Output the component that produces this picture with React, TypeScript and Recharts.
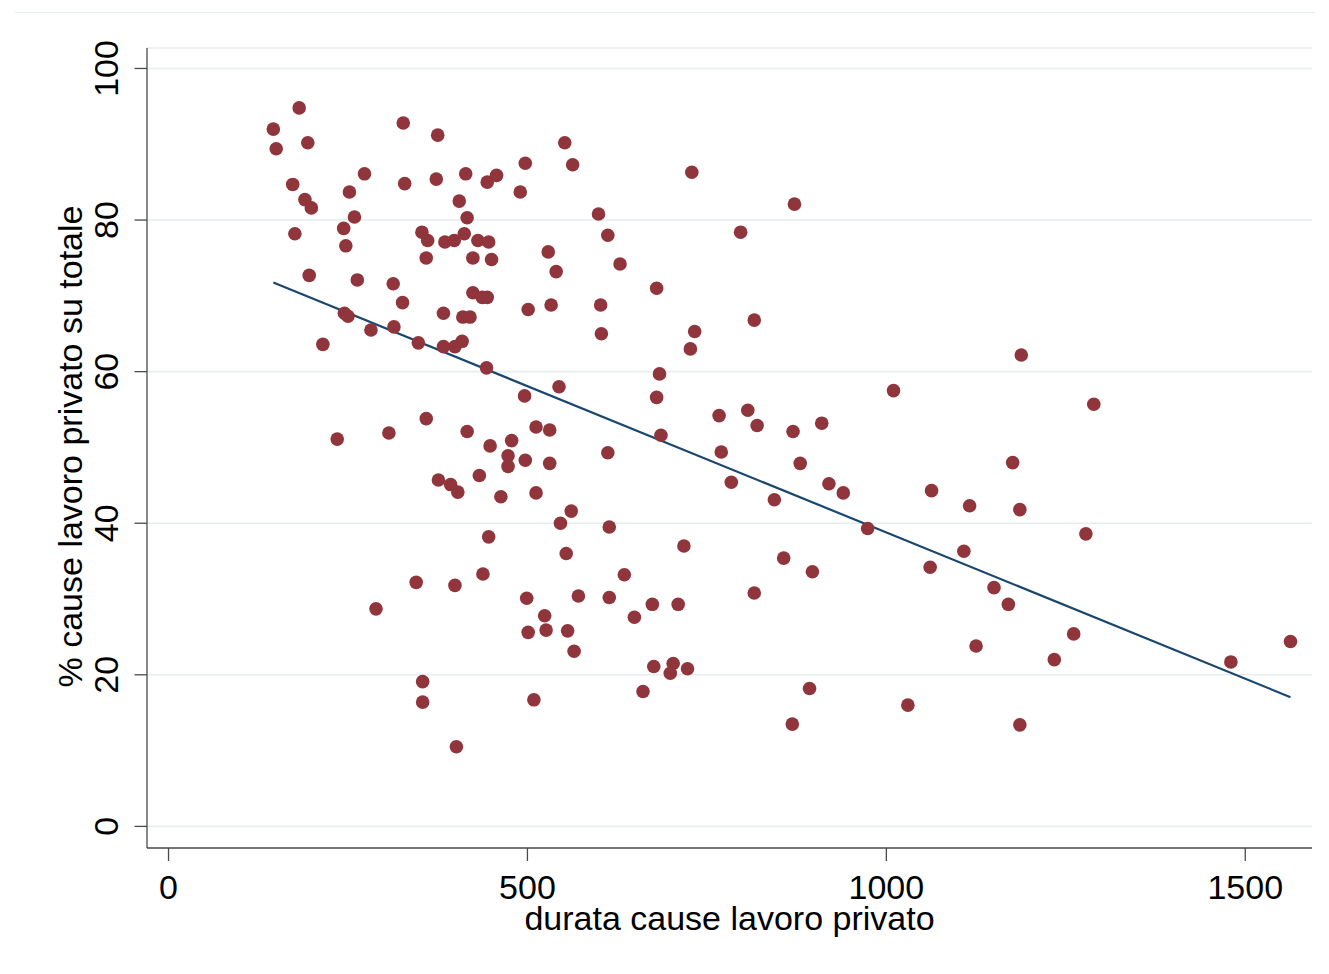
import React from 'react';
import { ScatterChart, Scatter, XAxis, YAxis, CartesianGrid, Label } from 'recharts';

// durata cause lavoro privato (x)
const durata: number[] = [
  146, 150, 182, 194, 173, 190, 199, 176, 196, 215, 235, 252, 244, 247, 259, 263, 245, 250, 273, 282,
  289, 307, 313, 314, 326, 329, 327, 345, 348, 353, 354, 354, 359, 361, 359, 375, 373, 376, 383, 385,
  383, 393, 399, 401, 398, 399, 403, 409, 410, 412, 414, 416, 416, 420, 405, 424, 424, 431, 433, 437,
  444, 443, 444, 446, 446, 448, 450, 457, 438, 463, 473, 473, 478, 490, 496, 497, 497, 499, 501, 501,
  509, 512, 512, 524, 526, 529, 531, 531, 533, 540, 544, 546, 552, 554, 556, 561, 563, 565, 571, 599,
  612, 629, 602, 603, 612, 614, 635, 614, 649, 729, 872, 797, 680, 816, 733, 727, 684, 680, 767, 807,
  820, 870, 910, 686, 770, 880, 784, 920, 844, 940, 974, 718, 857, 897, 816, 674, 710, 676, 703, 699,
  723, 661, 893, 869, 1030, 1188, 1010, 1289, 1176, 1063, 1116, 1186, 1278, 1108, 1061, 1150, 1170, 1261, 1125, 1234,
  1480, 1563, 1186,
];

// % cause lavoro privato su totale (y)
const quota: number[] = [
  92.0, 89.4, 94.8, 90.2, 84.7, 82.7, 81.6, 78.2, 72.7, 63.6, 51.1, 83.7, 78.9, 76.6, 80.4, 72.1, 67.7, 67.3, 86.1, 65.5,
  28.7, 51.9, 71.6, 65.9, 69.1, 84.8, 92.8, 32.2, 63.8, 78.4, 19.1, 16.4, 75.0, 77.3, 53.8, 91.2, 85.4, 45.7, 67.7, 77.1,
  63.3, 45.1, 31.8, 10.5, 77.3, 63.3, 44.1, 64.0, 67.2, 78.2, 86.1, 80.3, 52.1, 67.2, 82.5, 75.0, 70.4, 77.3, 46.3, 69.8,
  69.8, 60.5, 85.0, 77.1, 38.2, 50.2, 74.8, 85.9, 33.3, 43.5, 48.9, 47.5, 50.9, 83.7, 56.8, 87.5, 48.3, 30.1, 25.6, 68.2,
  16.7, 44.0, 52.7, 27.8, 25.9, 75.8, 52.3, 47.9, 68.8, 73.2, 58.0, 40.0, 90.2, 36.0, 25.8, 41.6, 87.3, 23.1, 30.4, 80.8,
  78.0, 74.2, 68.8, 65.0, 49.3, 39.5, 33.2, 30.2, 27.6, 86.3, 82.1, 78.4, 71.0, 66.8, 65.3, 63.0, 59.7, 56.6, 54.2, 54.9,
  52.9, 52.1, 53.2, 51.6, 49.4, 47.9, 45.4, 45.2, 43.1, 44.0, 39.3, 37.0, 35.4, 33.6, 30.8, 29.3, 29.3, 21.1, 21.5, 20.2,
  20.8, 17.8, 18.2, 13.5, 16.0, 62.2, 57.5, 55.7, 48.0, 44.3, 42.3, 41.8, 38.6, 36.3, 34.2, 31.5, 29.3, 25.4, 23.8, 22.0,
  21.7, 24.4, 13.4,
];

// fitted values (linear fit) at the min and max of durata
const fitX: number[] = [146, 1563];
const fitY: number[] = [71.75, 17.05];

const xTicks: number[] = [0, 500, 1000, 1500];
const yTicks: number[] = [0, 20, 40, 60, 80, 100];

const points = durata.map((x, i) => ({ x, y: quota[i] }));
const fitLine = fitX.map((x, i) => ({ x, y: fitY[i] }));

const FONT = '"Liberation Sans", Arial, Helvetica, sans-serif';
const FS = 34;
const W = 1313;
const H = 958;
const M_TOP = 40;
const M_RIGHT = 9;
const Y_AXIS_W = 139;
const X_AXIS_H = 118;

const YTick = (props: any) => {
  const { x, y, payload } = props;
  return (
    <text
      x={x}
      y={y}
      transform={`rotate(-90 ${x} ${y})`}
      textAnchor="middle"
      fontSize={FS}
      fontFamily={FONT}
      fill="#000"
    >
      {payload.value}
    </text>
  );
};

const Dot = (props: any) => {
  const { cx, cy } = props;
  return <circle cx={cx} cy={cy} r={6.8} fill="#90353b" />;
};

const NoShape = () => <g />;

export default function App() {
  const plotLeft = Y_AXIS_W;
  const plotRight = W - M_RIGHT;
  const plotTop = M_TOP;
  const plotBottom = H - X_AXIS_H;
  return (
    <div style={{ position: 'relative', width: W, height: H }}>
      <div
        style={{
          position: 'absolute',
          left: 7,
          top: 4,
          width: 1300,
          height: 1,
          background: '#e6eef0',
        }}
      />
      <ScatterChart width={W} height={H} margin={{ top: M_TOP, right: M_RIGHT, left: 0, bottom: 0 }}>
        <CartesianGrid horizontal={true} vertical={false} stroke="#e6eef0" strokeWidth={1.6} />
        <XAxis
          type="number"
          dataKey="x"
          domain={[-30, 1593]}
          ticks={xTicks}
          allowDataOverflow
          height={X_AXIS_H}
          tickSize={13}
          tickMargin={14}
          stroke="#4a4a4a"
          strokeWidth={1.3}
          tick={{ fontSize: FS, fontFamily: FONT, fill: '#000' }}
        >
          <Label
            content={() => (
              <text
                x={(plotLeft + plotRight) / 2}
                y={plotBottom + 82}
                textAnchor="middle"
                fontSize={FS}
                fontFamily={FONT}
                fill="#000"
              >
                durata cause lavoro privato
              </text>
            )}
          />
        </XAxis>
        <YAxis
          type="number"
          dataKey="y"
          domain={[-2.85, 102.7]}
          ticks={yTicks}
          allowDataOverflow
          width={Y_AXIS_W}
          tickSize={12.5}
          tickMargin={16}
          stroke="#4a4a4a"
          strokeWidth={1.3}
          tick={<YTick />}
        >
          <Label
            content={() => {
              const cx = 74;
              const cy = (plotTop + plotBottom) / 2 - 1.5;
              return (
                <text
                  x={cx}
                  y={cy}
                  transform={`rotate(-90 ${cx} ${cy})`}
                  textAnchor="middle"
                  fontSize={FS}
                  fontFamily={FONT}
                  fill="#000"
                >
                  % cause lavoro privato su totale
                </text>
              );
            }}
          />
        </YAxis>
        <Scatter
          data={fitLine}
          line={{ stroke: '#1a476f', strokeWidth: 2.2 }}
          lineType="joint"
          shape={<NoShape />}
          isAnimationActive={false}
        />
        <Scatter data={points} shape={<Dot />} isAnimationActive={false} />
      </ScatterChart>
    </div>
  );
}
